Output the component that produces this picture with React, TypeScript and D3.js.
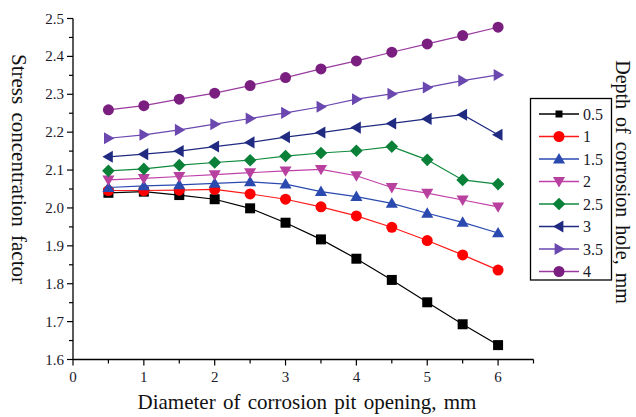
import React, { useEffect, useRef } from "react";
import * as d3 from "d3";

// diameter of pit opening, mm
const diameters = [0.5, 1, 1.5, 2, 2.5, 3, 3.5, 4, 4.5, 5, 5.5, 6];

// stress concentration factor per hole depth
const d05 = [2.040, 2.043, 2.034, 2.023, 1.999, 1.961, 1.917, 1.866, 1.810, 1.751, 1.693, 1.638];
const d10 = [2.046, 2.046, 2.047, 2.049, 2.037, 2.023, 2.003, 1.979, 1.949, 1.914, 1.876, 1.836];
const d15 = [2.054, 2.058, 2.061, 2.065, 2.069, 2.063, 2.043, 2.030, 2.012, 1.986, 1.962, 1.934];
const d20 = [2.074, 2.078, 2.083, 2.088, 2.093, 2.098, 2.102, 2.085, 2.054, 2.039, 2.021, 2.003];
const d25 = [2.098, 2.103, 2.113, 2.120, 2.126, 2.137, 2.145, 2.151, 2.162, 2.127, 2.074, 2.063];
const d30 = [2.135, 2.142, 2.150, 2.162, 2.173, 2.187, 2.199, 2.212, 2.223, 2.235, 2.246, 2.193];
const d35 = [2.184, 2.193, 2.206, 2.221, 2.236, 2.251, 2.267, 2.287, 2.301, 2.318, 2.336, 2.351];
const d40 = [2.259, 2.270, 2.287, 2.303, 2.323, 2.344, 2.367, 2.388, 2.411, 2.433, 2.455, 2.477];

const depthLabels = ["0.5", "1", "1.5", "2", "2.5", "3", "3.5", "4"];
const seriesValues = [d05, d10, d15, d20, d25, d30, d35, d40];
const lineColors = ["#000000", "#ff1a1a", "#2a4ab0", "#c040a8", "#0f8a3c", "#1f2a80", "#6a48b0", "#9a3aa0"];
const markColors = ["#000000", "#ff0000", "#2a4ab0", "#b8409f", "#0a8038", "#1f2a80", "#6a48b0", "#7a1f80"];
const shapes = ["square", "circle", "up", "down", "diamond", "left", "right", "circle"];

const xTicks = [0, 1, 2, 3, 4, 5, 6];
const yTicks = [1.6, 1.7, 1.8, 1.9, 2.0, 2.1, 2.2, 2.3, 2.4, 2.5];

const FONT = "'Liberation Serif', 'Times New Roman', serif";

function markerPath(shape: string, s: number) {
  const h = s / 2;
  switch (shape) {
    case "square":
      return `M${-h},${-h}H${h}V${h}H${-h}Z`;
    case "up":
      return `M0,${-h * 1.1}L${h * 1.1},${h * 0.8}L${-h * 1.1},${h * 0.8}Z`;
    case "down":
      return `M0,${h * 1.1}L${h * 1.1},${-h * 0.8}L${-h * 1.1},${-h * 0.8}Z`;
    case "left":
      return `M${-h * 1.1},0L${h * 0.8},${-h * 1.1}L${h * 0.8},${h * 1.1}Z`;
    case "right":
      return `M${h * 1.1},0L${-h * 0.8},${-h * 1.1}L${-h * 0.8},${h * 1.1}Z`;
    case "diamond":
      return `M0,${-h * 1.15}L${h * 1.15},0L0,${h * 1.15}L${-h * 1.15},0Z`;
    default:
      return d3.arc()({ innerRadius: 0, outerRadius: h, startAngle: 0, endAngle: Math.PI * 2 }) as string;
  }
}

const App = () => {
  const svgRef = useRef<SVGSVGElement>(null);

  useEffect(() => {
    const svg = d3.select(svgRef.current);
    svg.selectAll("*").remove();

    const x = d3.scaleLinear().domain([0, 6.5]).range([73, 533.5]);
    const y = d3.scaleLinear().domain([1.6, 2.5]).range([359.5, 18.5]);

    // x axis
    const gx = svg.append("g").attr("transform", `translate(0,${y(1.6)})`);
    gx.append("line").attr("x1", x(0)).attr("x2", x(6.5)).attr("stroke", "#000").attr("stroke-width", 1.3);
    gx.selectAll("line.minor")
      .data(d3.range(0, 6.51, 0.5))
      .join("line")
      .attr("x1", (d) => x(d))
      .attr("x2", (d) => x(d))
      .attr("y1", 0)
      .attr("y2", (d) => (Number.isInteger(d) ? 6 : 4))
      .attr("stroke", "#000")
      .attr("stroke-width", 1.2);
    gx.selectAll("text")
      .data(xTicks)
      .join("text")
      .attr("x", (d) => x(d))
      .attr("y", 22)
      .attr("text-anchor", "middle")
      .attr("font-family", FONT)
      .attr("font-size", 15)
      .attr("fill", "#1a1a2a")
      .text((d) => d);

    // y axis
    const gy = svg.append("g").attr("transform", `translate(${x(0)},0)`);
    gy.append("line").attr("y1", y(1.6)).attr("y2", y(2.5)).attr("stroke", "#000").attr("stroke-width", 1.3);
    gy.selectAll("line.tick")
      .data(d3.range(1.6, 2.501, 0.05))
      .join("line")
      .attr("y1", (d) => y(d))
      .attr("y2", (d) => y(d))
      .attr("x1", 0)
      .attr("x2", (d, i) => (i % 2 === 0 ? -6 : -4))
      .attr("stroke", "#000")
      .attr("stroke-width", 1.2);
    gy.selectAll("text")
      .data(yTicks)
      .join("text")
      .attr("x", -9)
      .attr("y", (d) => y(d) + 5)
      .attr("text-anchor", "end")
      .attr("font-family", FONT)
      .attr("font-size", 15)
      .attr("fill", "#1a1a2a")
      .text((d) => d.toFixed(1));

    // lines and markers
    const line = d3
      .line<number>()
      .x((d, i) => x(diameters[i]))
      .y((d) => y(d));

    seriesValues.forEach((vals, k) => {
      svg.append("path")
        .attr("d", line(vals))
        .attr("fill", "none")
        .attr("stroke", lineColors[k])
        .attr("stroke-width", 1.2);
      svg.append("g")
        .selectAll("path")
        .data(vals)
        .join("path")
        .attr("transform", (d, i) => `translate(${x(diameters[i])},${y(d)})`)
        .attr("d", markerPath(shapes[k], shapes[k] === "square" ? 10 : 11))
        .attr("fill", markColors[k]);
    });

    // legend
    const lg = svg.append("g");
    lg.append("rect")
      .attr("x", 530.5)
      .attr("y", 98.5)
      .attr("width", 81)
      .attr("height", 181.5)
      .attr("fill", "#fff")
      .attr("stroke", "#000")
      .attr("stroke-width", 1.3);
    depthLabels.forEach((lab, k) => {
      const cy = 114 + k * 22.5;
      lg.append("line").attr("x1", 539).attr("x2", 579).attr("y1", cy).attr("y2", cy)
        .attr("stroke", lineColors[k]).attr("stroke-width", 1.3);
      lg.append("path")
        .attr("transform", `translate(559,${cy})`)
        .attr("d", markerPath(shapes[k], k === 0 ? 7 : 11))
        .attr("fill", markColors[k]);
      lg.append("text")
        .attr("x", 583)
        .attr("y", cy + 5.5)
        .attr("font-family", FONT)
        .attr("font-size", 16)
        .attr("fill", "#1a1a2a")
        .text(lab);
    });

    // axis titles
    svg.append("text")
      .attr("x", 307)
      .attr("y", 409)
      .attr("text-anchor", "middle")
      .attr("font-family", FONT)
      .attr("font-size", 21)
      .attr("word-spacing", 2)
      .attr("fill", "#111")
      .text("Diameter of corrosion pit opening, mm");

    svg.append("text")
      .attr("transform", "translate(12,169) rotate(90)")
      .attr("text-anchor", "middle")
      .attr("font-family", FONT)
      .attr("font-size", 21)
      .attr("word-spacing", 3)
      .attr("fill", "#111")
      .text("Stress concentration factor");

    svg.append("text")
      .attr("transform", "translate(616,182) rotate(90)")
      .attr("text-anchor", "middle")
      .attr("font-family", FONT)
      .attr("font-size", 20)
      .attr("word-spacing", 3)
      .attr("fill", "#111")
      .text("Depth of corrosion hole, mm");
  }, []);

  return (
    <svg
      ref={svgRef}
      width={636}
      height={417}
      style={{ position: "absolute", left: 0, top: 0, background: "#fff" }}
    />
  );
};

export default App;
